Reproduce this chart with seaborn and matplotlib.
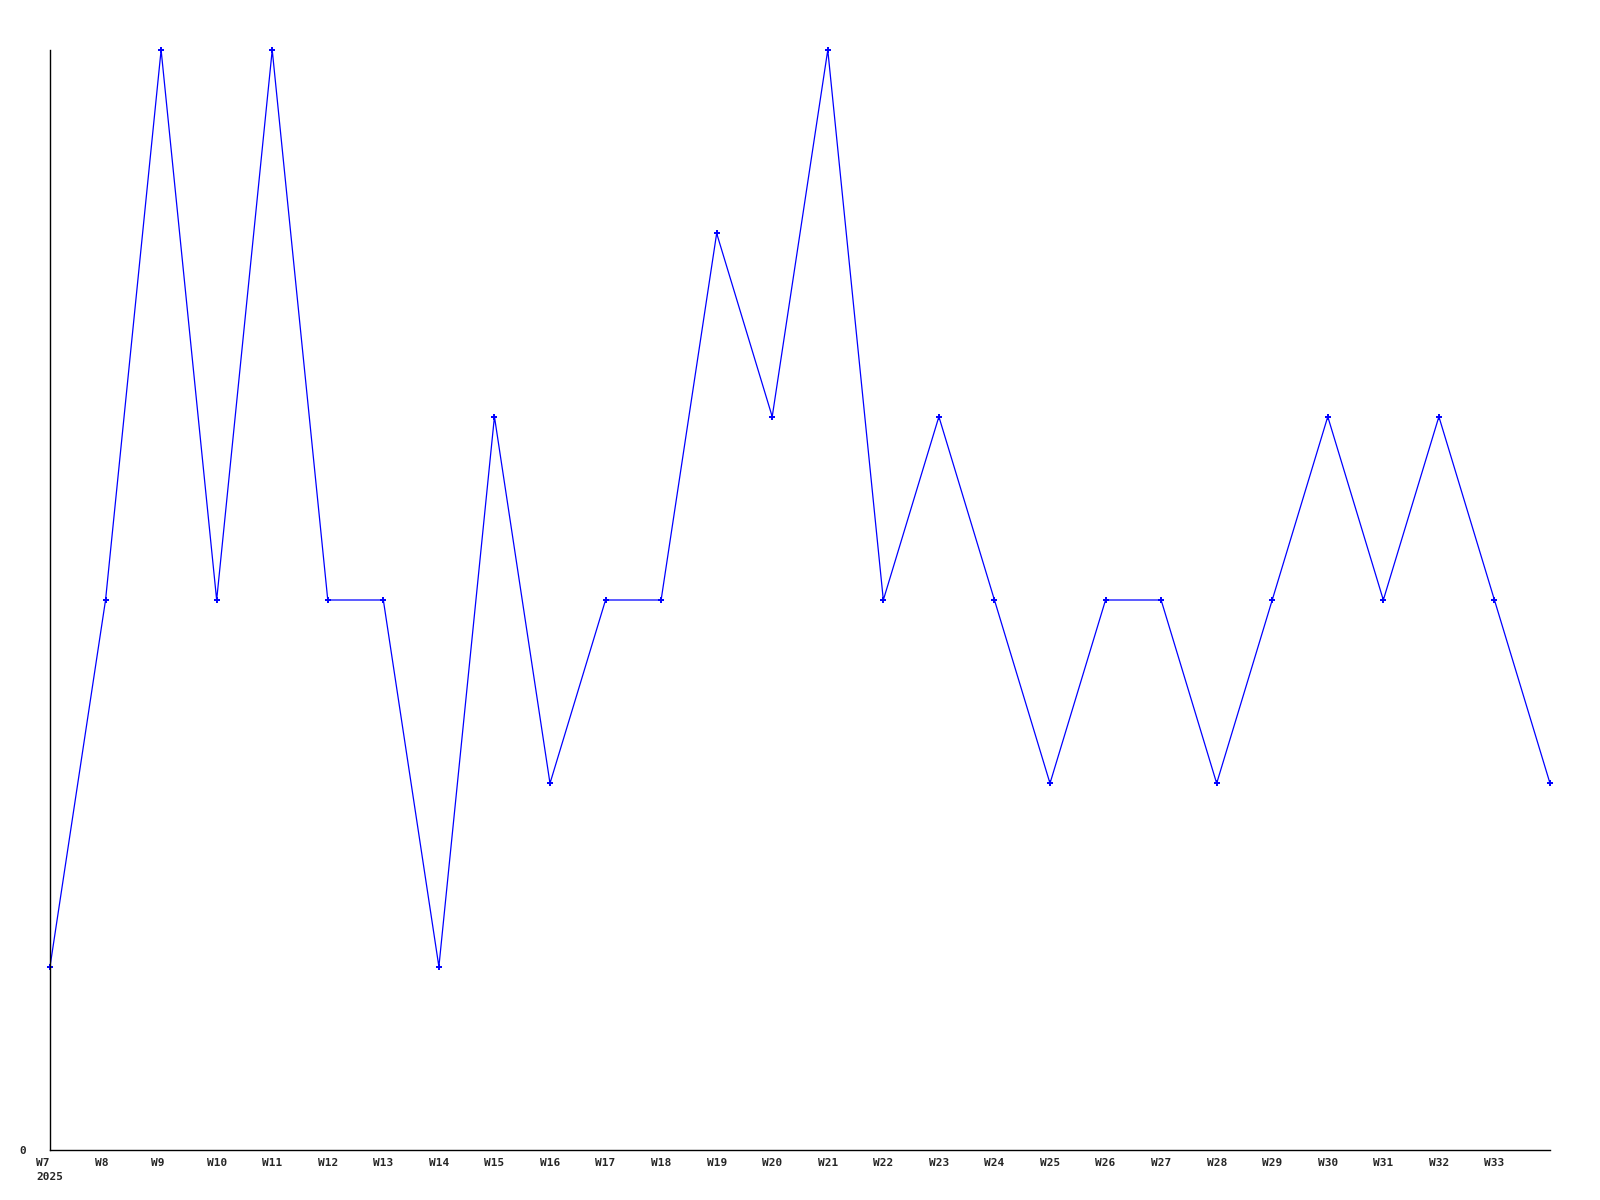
import matplotlib
matplotlib.use("Agg")
import matplotlib.pyplot as plt
import seaborn as sns
import pandas as pd

weeks = ["W7", "W8", "W9", "W10", "W11", "W12", "W13", "W14", "W15", "W16",
         "W17", "W18", "W19", "W20", "W21", "W22", "W23", "W24", "W25", "W26",
         "W27", "W28", "W29", "W30", "W31", "W32", "W33", "W34"]
values = [1, 3, 6, 3, 6, 3, 3, 1, 4, 2, 3, 3, 5, 4, 6, 3, 4, 3, 2, 3, 3, 2, 3, 4, 3, 4, 3, 2]
year_label = "2025"
# pad to 3 characters (monospace) so labels start a fixed distance left of the tick
tick_labels = [w.ljust(3) for w in weeks[:27]]
tick_labels[0] = tick_labels[0] + "\n" + year_label

sns.set_style("white")
plt.rcParams['font.family'] = ['DejaVu Sans Mono', 'DejaVu Sans']

df = pd.DataFrame({"idx": range(len(weeks)), "week": weeks, "value": values})

fig = plt.figure(figsize=(16, 12), dpi=100)
ax = fig.add_axes([50/1600, 50/1200, 1500/1600, 1100/1200])
sns.lineplot(data=df, x="idx", y="value", ax=ax, color="#0000ff", linewidth=0.9,
             marker="+", markersize=4, markeredgewidth=1.4, markeredgecolor="#0000ff",
             clip_on=False)
ax.set_xlim(0, 27)
ax.set_ylim(0, 6)
ax.set_xticks(range(27))
ax.set_xticklabels(tick_labels, fontsize=8, fontweight="bold", multialignment="left",
                   linespacing=1.45)
ax.set_yticks([0])
ax.set_yticklabels(["0"], fontsize=8, fontweight="bold")
ax.tick_params(axis="both", length=0)
ax.tick_params(axis="x", pad=6)
ax.tick_params(axis="y", pad=17)
ax.set_xlabel("")
ax.set_ylabel("")
for s in ["top", "right"]:
    ax.spines[s].set_visible(False)
for s in ["left", "bottom"]:
    ax.spines[s].set_color("black")
    ax.spines[s].set_linewidth(1.0)
ax.grid(False)
fig.savefig("out.png", dpi=100, facecolor="white")
